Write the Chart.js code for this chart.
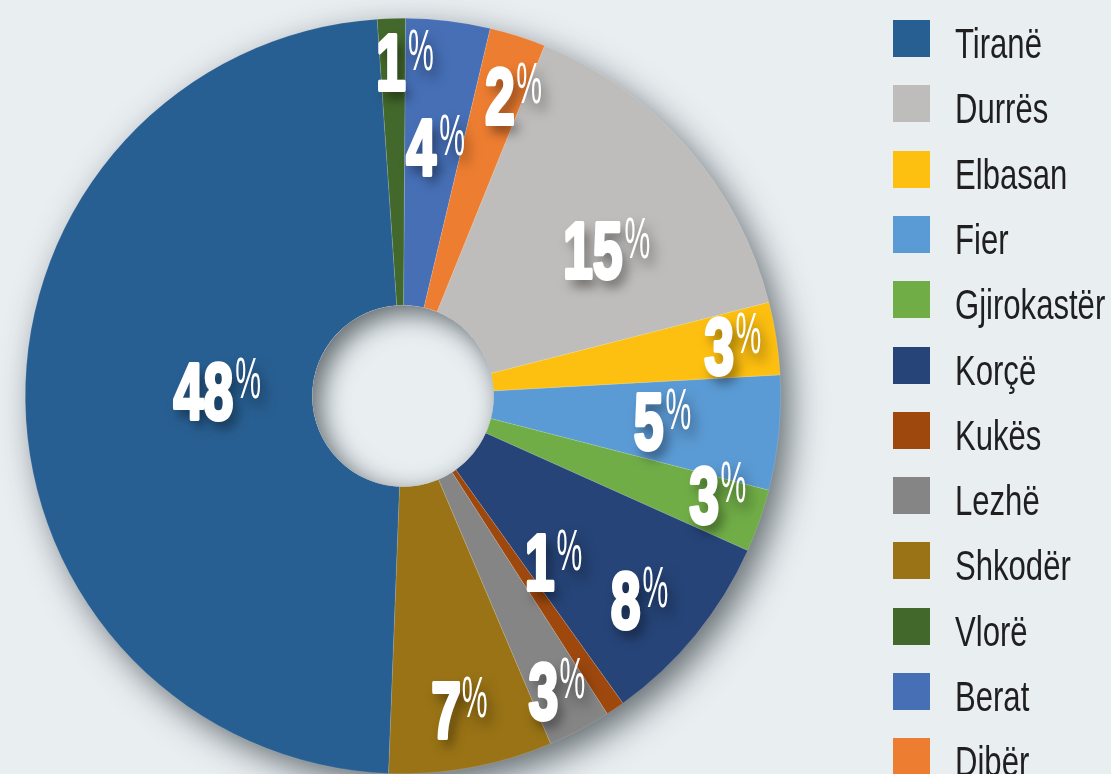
<!DOCTYPE html>
<html>
<head>
<meta charset="utf-8">
<script src="https://cdn.jsdelivr.net/npm/chart.js@4.4.1/dist/chart.umd.min.js"></script>
<style>
  html, body { margin: 0; padding: 0; background: #e9eef1; }
  #wrap { width: 1111px; height: 774px; position: relative; overflow: hidden; }
</style>
</head>
<body>
<div id="wrap"><canvas id="pie"></canvas></div>
<script>
// slices in the order they run clockwise, starting at Durrës
const regions = ['Durrës', 'Elbasan', 'Fier', 'Gjirokastër', 'Korçë', 'Kukës', 'Lezhë', 'Shkodër', 'Tiranë', 'Vlorë', 'Berat', 'Dibër'];
const shares = [14.9, 3.1, 4.9, 2.7, 8.4, 0.8, 2.7, 7.0, 48.3, 1.2, 3.6, 2.4];
const colors = ['#bebdbb', '#fdbf10', '#5b9bd5', '#70ad47', '#264478', '#9e480e', '#858585', '#997315', '#285f92', '#43682b', '#466fb6', '#ed7d31'];
const legendOrder = ['Tiranë', 'Durrës', 'Elbasan', 'Fier', 'Gjirokastër', 'Korçë', 'Kukës', 'Lezhë', 'Shkodër', 'Vlorë', 'Berat', 'Dibër'];

// where each % label sits: [degrees off the slice middle, fraction of outer radius]
const labelPlace = [[3.8, 0.636], [-0.2, 0.846], [0.2, 0.654], [-1.1, 0.838], [3.2, 0.80], [-5.4, 0.573],
                    [2.5, 0.864], [2.6, 0.838], [2.3, 0.529], [-0.1, 0.884], [-2.6, 0.66], [0.2, 0.835]];

const BG = '#e9eef1';

function drawLabel(ctx, txt, cx, cy) {
  const sx = 0.67, psx = 0.5;
  ctx.save();
  ctx.font = 'bold 80px "Liberation Sans", Arial, sans-serif';
  const m = ctx.measureText(txt);
  const asc = m.actualBoundingBoxAscent;
  const ox = cx - (m.actualBoundingBoxRight - m.actualBoundingBoxLeft) * sx / 2;
  const base = cy + asc / 2;
  const right = ox + m.actualBoundingBoxRight * sx;
  const top = base - asc;

  ctx.fillStyle = '#fff';
  ctx.strokeStyle = '#fff';
  ctx.shadowColor = 'rgba(0,0,0,0.5)';
  ctx.shadowBlur = 12;
  ctx.shadowOffsetX = 5;
  ctx.shadowOffsetY = 8;

  ctx.save();
  ctx.translate(ox, base);
  ctx.scale(sx, 1);
  ctx.fillText(txt, 0, 0);
  ctx.shadowColor = 'transparent';
  ctx.lineWidth = 4;
  ctx.lineJoin = 'round';
  ctx.strokeText(txt, 0, 0);
  ctx.restore();

  ctx.font = '58px "Liberation Sans", Arial, sans-serif';
  const pm = ctx.measureText('%');
  const px = right + 4 + pm.actualBoundingBoxLeft * psx;
  const pb = top - 6 + pm.actualBoundingBoxAscent;
  ctx.save();
  ctx.translate(px, pb);
  ctx.scale(psx, 1);
  ctx.fillText('%', 0, 0);
  ctx.restore();
  ctx.restore();
}

const piePlugin = {
  id: 'pieExtras',
  beforeDatasetsDraw(chart) {
    const arc = chart.getDatasetMeta(0).data[0];
    const ctx = chart.ctx;
    ctx.save();
    ctx.shadowColor = 'rgba(40,50,55,0.7)';
    ctx.shadowBlur = 34;
    ctx.shadowOffsetX = 10;
    ctx.shadowOffsetY = 12;
    ctx.fillStyle = BG;
    ctx.beginPath();
    ctx.arc(arc.x, arc.y, arc.outerRadius - 1, 0, Math.PI * 2);
    ctx.fill();
    ctx.restore();
  },
  afterDatasetsDraw(chart) {
    const ctx = chart.ctx;
    const meta = chart.getDatasetMeta(0);
    const first = meta.data[0];
    const cx = first.x, cy = first.y, r = first.innerRadius;

    // the hole, shaded like a dent
    ctx.save();
    ctx.beginPath();
    ctx.arc(cx, cy, r, 0, Math.PI * 2);
    ctx.fillStyle = BG;
    ctx.fill();
    ctx.clip();
    ctx.beginPath();
    ctx.rect(cx - r * 3, cy - r * 3, r * 6, r * 6);
    ctx.arc(cx, cy, r, 0, Math.PI * 2, true);
    ctx.shadowColor = 'rgba(50,60,65,0.75)';
    ctx.shadowBlur = 26;
    ctx.shadowOffsetX = 8;
    ctx.shadowOffsetY = 8;
    ctx.fillStyle = '#9aa1a4';
    ctx.fill('evenodd');
    ctx.restore();

    meta.data.forEach((el, i) => {
      const p = el.getProps(['x', 'y', 'startAngle', 'endAngle', 'outerRadius'], true);
      const mid = (p.startAngle + p.endAngle) / 2 + labelPlace[i][0] * Math.PI / 180;
      const d = p.outerRadius * labelPlace[i][1];
      drawLabel(ctx, String(Math.round(shares[i])), p.x + Math.cos(mid) * d, p.y + Math.sin(mid) * d);
    });
  },
  afterDraw(chart) {
    const ctx = chart.ctx;
    legendOrder.forEach((name, i) => {
      const idx = regions.indexOf(name);
      const top = 20 + i * 65.3;
      ctx.fillStyle = colors[idx];
      ctx.fillRect(893, Math.round(top), 37, 37);
      ctx.save();
      ctx.translate(955, Math.round(top) + 38);
      ctx.scale(0.74, 1);
      ctx.font = '42px "Liberation Sans", Arial, sans-serif';
      ctx.fillStyle = '#1f1f1f';
      ctx.fillText(name, 0, 0);
      ctx.restore();
    });
  }
};

new Chart(document.getElementById('pie'), {
  type: 'doughnut',
  data: {
    labels: regions,
    datasets: [{
      data: shares,
      backgroundColor: colors,
      borderColor: 'rgba(255,255,255,0.25)',
      borderWidth: 0.5
    }]
  },
  options: {
    responsive: true,
    maintainAspectRatio: false,
    animation: false,
    events: [],
    rotation: 22,
    cutout: '24%',
    layout: { padding: { top: 18, left: 25, right: 330, bottom: 0 } },
    plugins: {
      legend: { display: false },
      tooltip: { enabled: false }
    }
  },
  plugins: [piePlugin]
});
</script>
</body>
</html>
